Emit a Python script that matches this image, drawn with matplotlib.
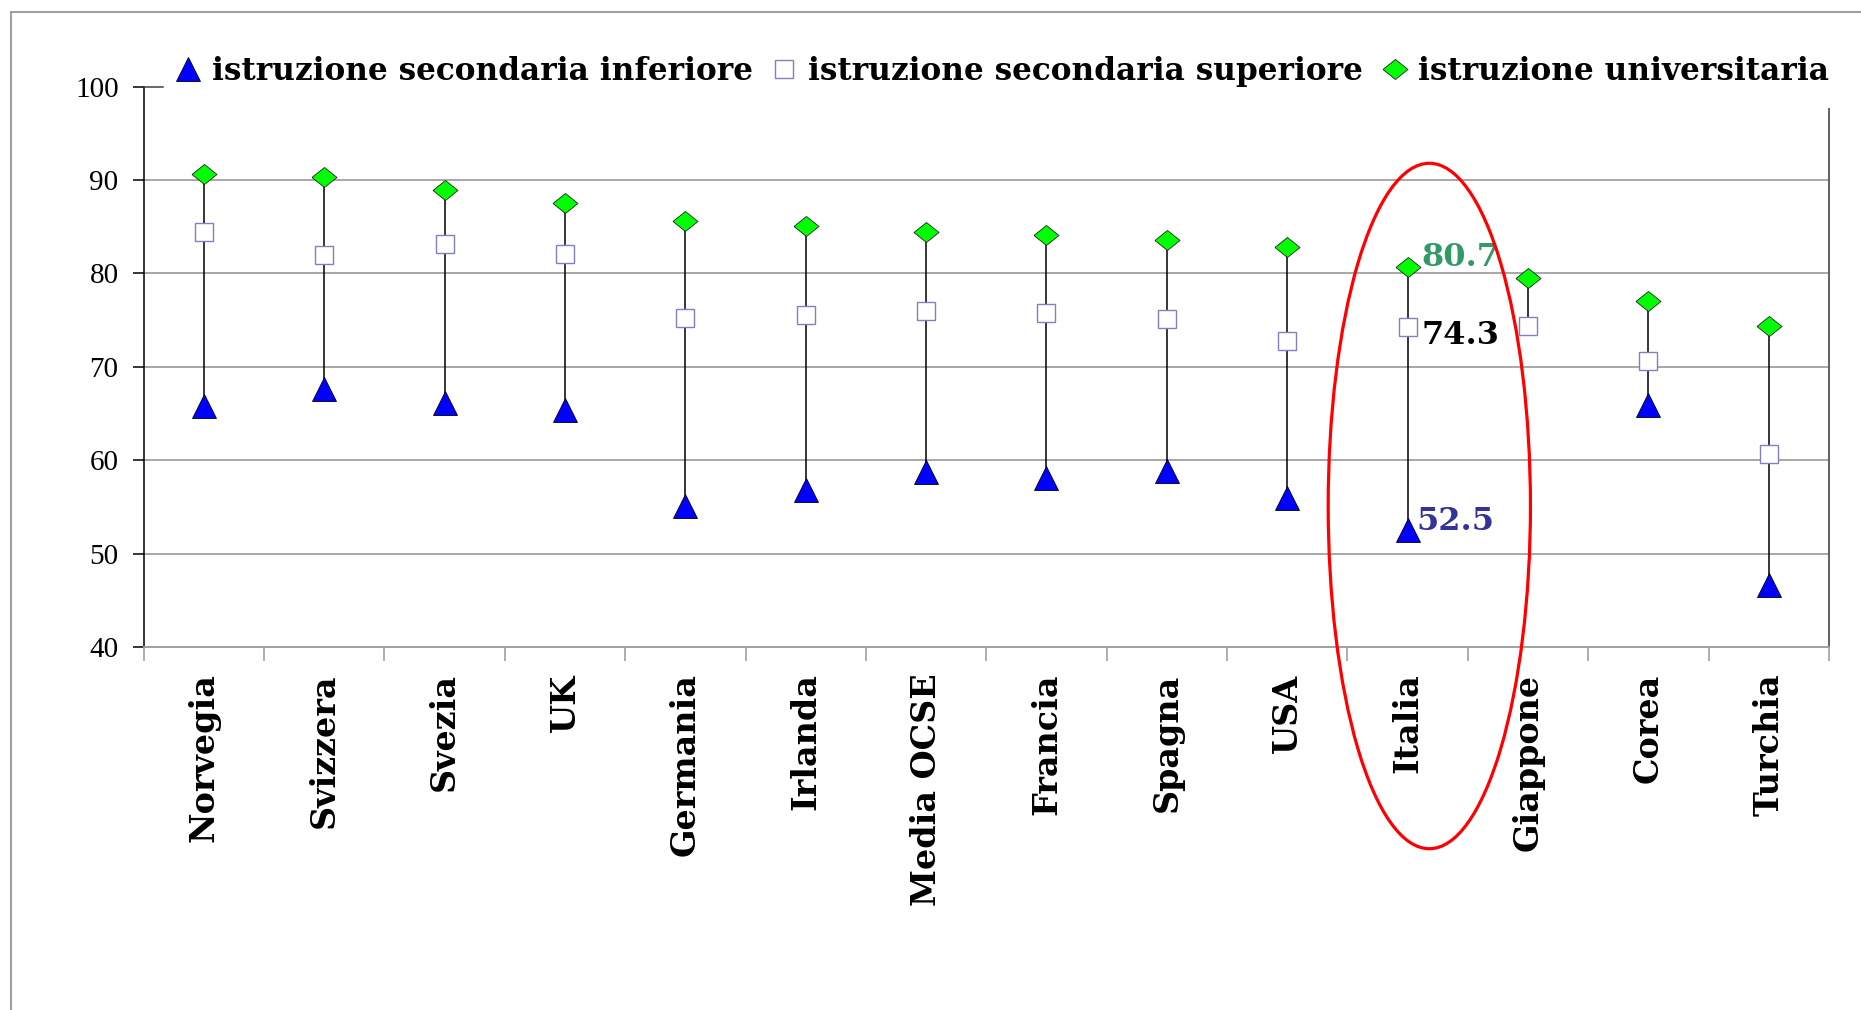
import numpy as np
import matplotlib.pyplot as plt
from matplotlib.patches import Ellipse
from matplotlib.lines import Line2D

paesi = ['Norvegia', 'Svizzera', 'Svezia', 'UK', 'Germania', 'Irlanda', 'Media OCSE',
         'Francia', 'Spagna', 'USA', 'Italia', 'Giappone', 'Corea', 'Turchia']
inferiore = [65.8, 67.6, 66.1, 65.4, 55.1, 56.8, 58.7, 58.1, 58.9, 56.0, 52.5, np.nan, 65.9, 46.6]
superiore = [84.4, 82.0, 83.2, 82.1, 75.2, 75.5, 76.0, 75.8, 75.1, 72.8, 74.3, 74.4, 70.6, 60.7]
universitaria = [90.6, 90.3, 88.9, 87.5, 85.6, 85.1, 84.4, 84.1, 83.6, 82.8, 80.7, 79.5, 77.0, 74.4]
etichette = ['istruzione secondaria inferiore', 'istruzione secondaria superiore',
             'istruzione universitaria']

W, H = 1861, 1010
fig = plt.figure(figsize=(W / 100, H / 100), dpi=100)
ax = fig.add_axes([143.6 / W, 1 - 647 / H, (1829 - 143.6) / W, (647 - 86.7) / H])

x = np.arange(len(paesi))
valori = np.array([inferiore, superiore, universitaria])
lo = np.nanmin(valori, axis=0)
hi = np.nanmax(valori, axis=0)

ax.vlines(x, lo, hi, color='black', lw=1.1, zorder=2)

diamante = [(-1, 0), (0, 0.8), (1, 0), (0, -0.8), (-1, 0)]
ax.plot(x, inferiore, ls='none', marker='^', ms=17.5, mfc='#0000ff', mec='black', mew=0.6,
        zorder=3, label=etichette[0])
ax.plot(x, superiore, ls='none', marker='s', ms=13.5, mfc='white', mec='#8080c0', mew=1.0,
        zorder=3, label=etichette[1])
ax.plot(x, universitaria, ls='none', marker=diamante, ms=18, mfc='#00ff00', mec='#202020',
        mew=0.6, zorder=3, label=etichette[2])

# valori per l'Italia
i = paesi.index('Italia')
ann = dict(textcoords='offset points', fontfamily='DejaVu Serif', fontweight='bold',
           fontsize=23, ha='left', va='center', zorder=6)
ax.annotate(f'{universitaria[i]}', (i, universitaria[i]), xytext=(10, 6.5), color='#339966', **ann)
ax.annotate(f'{superiore[i]}', (i, superiore[i]), xytext=(10, -6), color='black', **ann)
ax.annotate(f'{inferiore[i]}', (i, inferiore[i]), xytext=(6, 6), color='#333399', **ann)

ax.add_patch(Ellipse((10.18, 55.1), 1.68, 73.4, fill=False, ec='#ff0000', lw=2.3,
                     clip_on=False, zorder=7))

ax.set_xlim(-0.5, len(paesi) - 0.5)
ax.set_ylim(40, 100)
ax.set_yticks(np.arange(40, 101, 10))
ax.set_xticks(x)
ax.set_xticklabels(paesi, rotation=90, fontfamily='DejaVu Serif', fontweight='bold', fontsize=24)
ax.set_xticks(np.arange(-0.5, len(paesi), 1), minor=True)
ax.tick_params(axis='x', which='major', length=0, pad=19)
ax.tick_params(axis='x', which='minor', length=10, width=1.2, color='#a0a0a0', direction='out')
ax.tick_params(axis='y', length=8, width=1.1, color='black', pad=10, labelsize=21)
for t in ax.get_yticklabels():
    t.set_fontfamily('Liberation Serif')

for y in range(50, 100, 10):
    ax.axhline(y, color='#a0a0a0', lw=1.3, zorder=0)

ax.spines['left'].set_color('black')
ax.spines['left'].set_linewidth(1.1)
ax.spines['bottom'].set_color('#a0a0a0')
ax.spines['bottom'].set_linewidth(1.4)
ax.spines['right'].set_color('#606060')
ax.spines['right'].set_linewidth(1.4)
ax.spines['right'].set_bounds(40, 97.6)
ax.spines['top'].set_color('#404040')
ax.spines['top'].set_linewidth(1.1)
ax.spines['top'].set_bounds(-0.5, -0.34)

fs = 22.4
fig.legend(loc='center left', bbox_to_anchor=(175.6 / W, 1 - 71 / H), ncol=3, frameon=False,
           handlelength=0.8, handletextpad=0.36, columnspacing=0.62, borderpad=0,
           borderaxespad=0, prop={'family': 'DejaVu Serif', 'weight': 'bold', 'size': fs})

# cornice della diapositiva
fig.add_artist(Line2D([11 / W, 1], [1 - 12 / H, 1 - 12 / H], color='#a0a0a0', lw=1.5))
fig.add_artist(Line2D([11 / W, 11 / W], [0, 1 - 12 / H], color='#a0a0a0', lw=1.5))

fig.savefig('out.png', dpi=100)
